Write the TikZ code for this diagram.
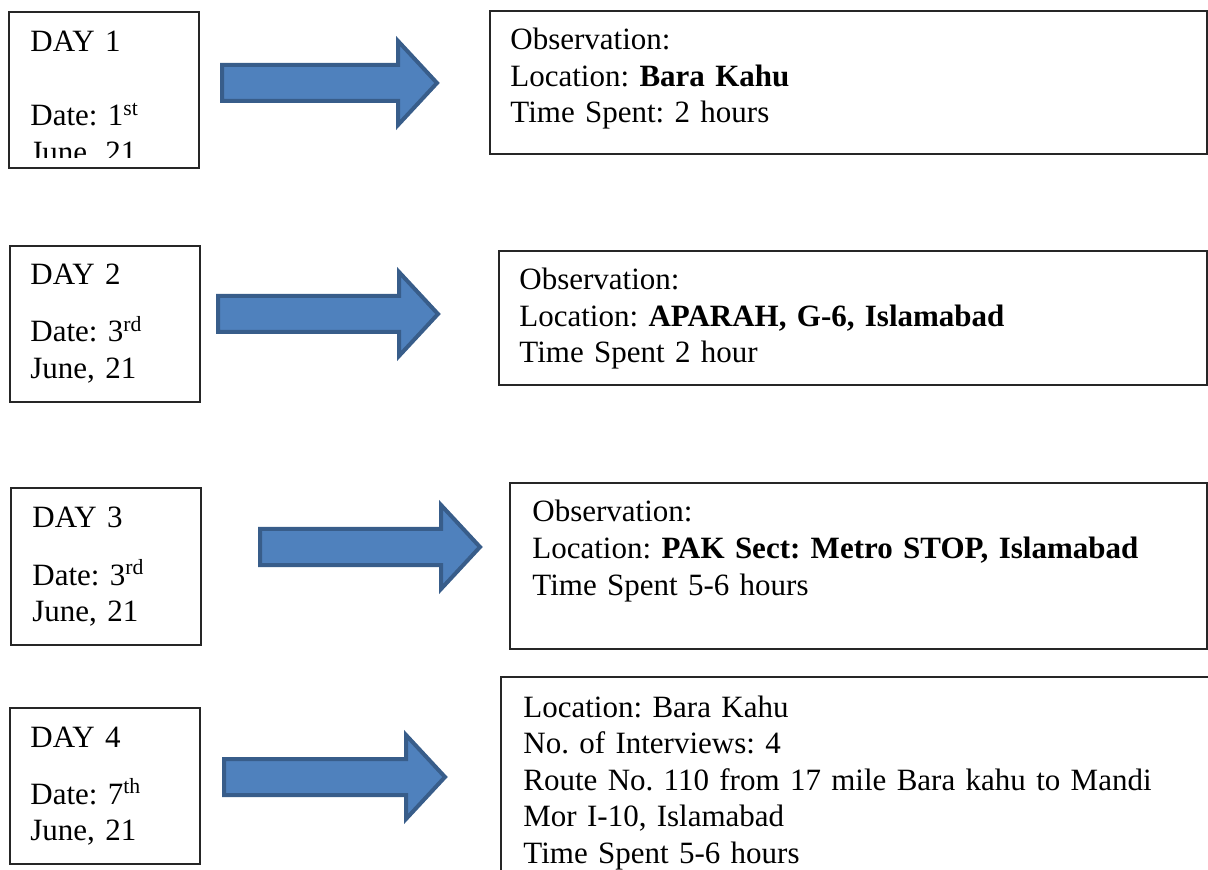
\documentclass[tikz,border=0pt]{standalone}
\usepackage{fontspec}
\setmainfont{Liberation Serif}
\usepackage{tikz}
\definecolor{ABlue}{HTML}{4F81BD}
\definecolor{AEdge}{HTML}{385D8A}

\begin{document}
\begin{tikzpicture}[
  x=0.5pt,y=-0.5pt,
  box/.style={draw=black!85,line width=0.8pt,inner sep=0pt,outer sep=0pt,anchor=north west},
  txt/.style={anchor=base west,inner sep=0pt,align=left,text width=#1,
    font=\fontsize{15.5}{18.25}\selectfont\frenchspacing},
  txt/.default=85pt,
  blk/.style={fill=ABlue,draw=AEdge,line width=2pt,line join=miter}
]
  \useasboundingbox (0,0) rectangle (1208,870);
  \clip (0,0) rectangle (1208,870);
  % day boxes
  \node[box,minimum width=95pt,minimum height=78pt] (day1) at (9,12) {};
  \node[box,minimum width=95pt,minimum height=78pt] (day2) at (10,246) {};
  \node[box,minimum width=95pt,minimum height=78.5pt] (day3) at (11,488) {};
  \node[box,minimum width=95pt,minimum height=78pt] (day4) at (10,708) {};
  % observation boxes
  \node[box,minimum width=358.5pt,minimum height=71.5pt] (obs1) at (490,11) {};
  \node[box,minimum width=354pt,minimum height=67pt] (obs2) at (499,251) {};
  \node[box,minimum width=348.5pt,minimum height=83pt] (obs3) at (510,483) {};
  \node[box,minimum width=380pt,minimum height=112pt] (obs4) at (501,677) {};
  % block arrows
  \foreach \tx/\hx/\cy in {222/398/83,218/399/314,260/441/547,224/406/777}
    {\draw[blk] (\tx,\cy-18) -- (\hx,\cy-18) -- (\hx,\cy-42) -- (\hx+39,\cy)
      -- (\hx,\cy+42) -- (\hx,\cy+18) -- (\tx,\cy+18) -- cycle;}
  % day texts
  \begin{scope}
    \clip (9,12) rectangle (199,158);
    \node[txt] (d1txt) at (30,52) {DAY 1\\[18.75pt]Date: 1\textsuperscript{st}\\June, 21};
  \end{scope}
  \node[txt] (d2txt) at (30,285) {DAY 2\\[10.25pt]Date: 3\textsuperscript{rd}\\June, 21};
  \node[txt] (d3txt) at (32,528) {DAY 3\\[10.25pt]Date: 3\textsuperscript{rd}\\June, 21};
  \node[txt] (d4txt) at (30,747) {DAY 4\\[10.25pt]Date: 7\textsuperscript{th}\\June, 21};
  % observation texts
  \node[txt=340pt] (o1txt) at (510,50) {Observation:\\Location: \textbf{Bara Kahu}\\Time Spent: 2 hours};
  \node[txt=340pt] (o2txt) at (519,290) {Observation:\\Location: \textbf{APARAH, G-6, Islamabad}\\Time Spent 2 hour};
  \node[txt=340pt] (o3txt) at (532,522) {Observation:\\Location: \textbf{PAK Sect: Metro STOP, Islamabad}\\Time Spent 5-6 hours};
  \node[txt=340pt] (o4txt) at (523,717) {Location: Bara Kahu\\No. of Interviews: 4\\Route No. 110 from 17 mile Bara kahu to Mandi\\Mor I-10, Islamabad\\Time Spent 5-6 hours};
\end{tikzpicture}
\end{document}
